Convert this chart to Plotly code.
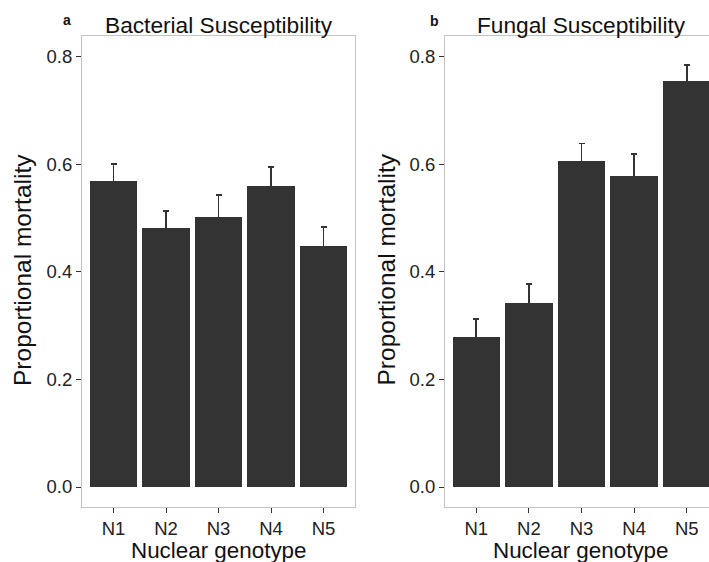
import plotly.graph_objects as go

genotypes = ["N1", "N2", "N3", "N4", "N5"]
bacterial_mean = [0.569, 0.481, 0.502, 0.560, 0.448]
bacterial_se = [0.032, 0.033, 0.041, 0.035, 0.036]
fungal_mean = [0.279, 0.343, 0.607, 0.579, 0.756]
fungal_se = [0.034, 0.035, 0.032, 0.041, 0.029]
y_ticks = [0.0, 0.2, 0.4, 0.6, 0.8]
y_tick_text = ["0.0", "0.2", "0.4", "0.6", "0.8"]

W, H = 709, 562
FONT = "Liberation Sans, Arial, Helvetica, sans-serif"
BAR = "#333333"
BORDER = "#c4c4c4"

xpos = [1, 2, 3, 4, 5]

fig = go.Figure()
for i, (m, e) in enumerate([(bacterial_mean, bacterial_se), (fungal_mean, fungal_se)]):
    xa = "x" if i == 0 else "x2"
    ya = "y" if i == 0 else "y2"
    # error bars first (lower half hidden behind the bars drawn afterwards)
    fig.add_trace(go.Bar(
        x=xpos, y=m, width=0.9,
        marker=dict(color="rgba(0,0,0,0)", line=dict(width=0)),
        error_y=dict(type="data", array=e, color="#333333", thickness=1.6, width=3),
        xaxis=xa, yaxis=ya, showlegend=False, hoverinfo="skip",
    ))
    fig.add_trace(go.Bar(
        x=xpos, y=m, width=0.9,
        marker=dict(color=BAR, line=dict(width=0)),
        xaxis=xa, yaxis=ya, showlegend=False,
    ))

def px(x):
    return x / W

def py(y):
    return 1 - y / H

ydom = [py(507), py(36)]
yrange = [-0.0372, 0.839]

common_x = dict(tickmode="array", tickvals=xpos, ticktext=genotypes, ticks="outside",
                ticklen=5, tickcolor="#333333", tickwidth=1,
                tickfont=dict(family=FONT, size=18.5, color="#222222"),
                showgrid=False, zeroline=False, showline=True, linecolor=BORDER,
                linewidth=1, mirror=True, fixedrange=True)
common_y = dict(tickmode="array", tickvals=y_ticks, ticktext=y_tick_text, ticks="outside",
                ticklen=5, tickcolor="#333333", tickwidth=1,
                tickfont=dict(family=FONT, size=18.5, color="#222222"),
                showgrid=False, zeroline=False, showline=True, linecolor=BORDER,
                linewidth=1, range=yrange, domain=ydom, fixedrange=True)

fig.update_layout(
    width=W, height=H,
    margin=dict(l=0, r=0, t=0, b=0),
    paper_bgcolor="white", plot_bgcolor="white",
    barmode="overlay", bargap=0,
    xaxis=dict(common_x, domain=[px(82), px(355)], range=[0.4, 5.6], anchor="y"),
    yaxis=dict(common_y, anchor="x", mirror=True),
    xaxis2=dict(common_x, domain=[px(445), 1.0], range=[0.407, 5.421], anchor="y2"),
    yaxis2=dict(common_y, anchor="x2", mirror=False),
    font=dict(family=FONT, color="#111111"),
)

annos = [
    dict(text="Bacterial Susceptibility", x=px(219), y=py(24.5), size=22.7),
    dict(text="Fungal Susceptibility", x=px(581.8), y=py(24.5), size=22.7),
    dict(text="<b>a</b>", x=px(66.5), y=py(20), size=14),
    dict(text="<b>b</b>", x=px(434.5), y=py(21), size=14),
    dict(text="Nuclear genotype", x=px(218.5), y=py(550), size=22.4),
    dict(text="Nuclear genotype", x=px(581.3), y=py(550), size=22.4),
]
for a in annos:
    fig.add_annotation(text=a["text"], x=a["x"], y=a["y"], xref="paper", yref="paper",
                       xanchor="center", yanchor="middle", showarrow=False,
                       font=dict(family=FONT, size=a["size"], color="#111111"))
for xc in (22, 385.5):
    fig.add_annotation(text="Proportional mortality", x=px(xc), y=py(270), xref="paper",
                       yref="paper", xanchor="center", yanchor="middle", textangle=-90,
                       showarrow=False, font=dict(family=FONT, size=24.5, color="#111111"))

fig.write_html("out.html", config={"displayModeBar": False, "staticPlot": True},
               post_script="document.body.style.margin='0';document.body.style.overflow='hidden';")
